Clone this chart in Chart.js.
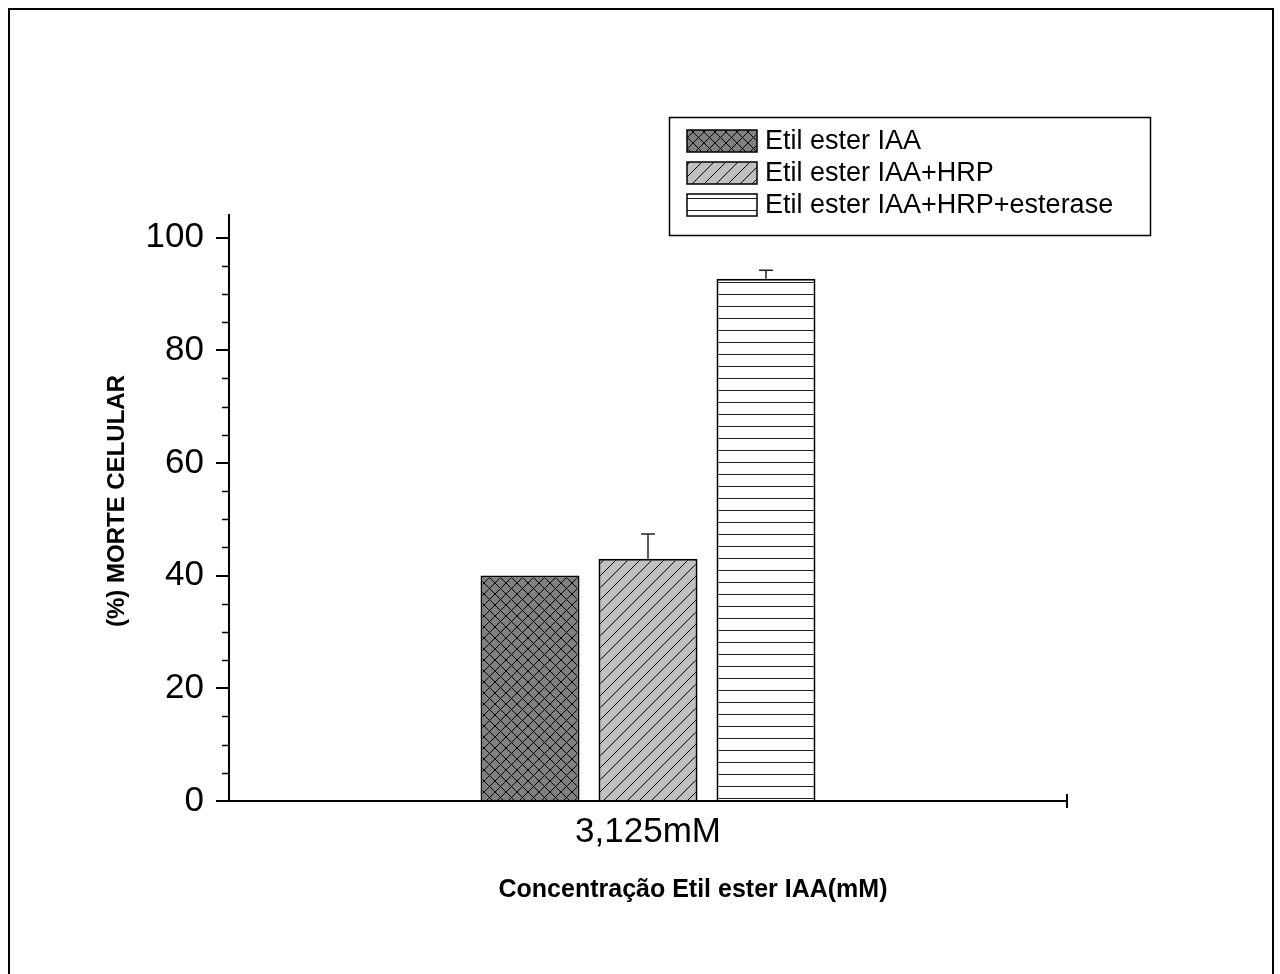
<!DOCTYPE html>
<html>
<head>
<meta charset="utf-8">
<script src="https://cdn.jsdelivr.net/npm/chart.js@4"></script>
<style>
  html, body { margin: 0; padding: 0; background: #fff; }
  canvas { display: block; }
</style>
</head>
<body>
<canvas id="chart" width="1280" height="974"></canvas>
<script>
/* ===== DATA ===== */
const categories = ["3,125mM"];
const seriesNames = ["Etil ester IAA", "Etil ester IAA+HRP", "Etil ester IAA+HRP+esterase"];
const iaaValues = [40];
const iaaHrpValues = [43];
const iaaHrpEsteraseValues = [92.7];
const iaaErrors = [0];
const iaaHrpErrors = [4.4];
const iaaHrpEsteraseErrors = [1.5];
const yTicks = [0, 20, 40, 60, 80, 100];
const yMinorTicks = [5, 10, 15, 25, 30, 35, 45, 50, 55, 65, 70, 75, 85, 90, 95];

const xTitle = "Concentração Etil ester IAA(mM)";
const yTitle = "(%) MORTE CELULAR";
const FONT = "'Liberation Sans', Arial, sans-serif";

/* ===== PATTERNS ===== */
function makePattern(kind) {
  const c = document.createElement("canvas");
  const s = kind === "cross" ? 11 : 12;
  c.width = s;
  c.height = s;
  const g = c.getContext("2d");
  g.fillStyle = kind === "cross" ? "#808080" : kind === "diag" ? "#c0c0c0" : "#ffffff";
  g.fillRect(0, 0, s, s);
  g.strokeStyle = "#000";
  g.lineWidth = 1;
  g.beginPath();
  if (kind === "cross" || kind === "diag") {
    // "/" lines
    g.moveTo(-1, s + 1); g.lineTo(s + 1, -1);
    g.moveTo(-1, 1); g.lineTo(1, -1);
    g.moveTo(s - 1, s + 1); g.lineTo(s + 1, s - 1);
  }
  if (kind === "cross") {
    // "\" lines
    g.moveTo(-1, -1); g.lineTo(s + 1, s + 1);
    g.moveTo(s - 1, -1); g.lineTo(s + 1, 1);
    g.moveTo(-1, s - 1); g.lineTo(1, s + 1);
  }
  if (kind === "hline") {
    g.strokeStyle = "#222";
    g.moveTo(0, 6.5); g.lineTo(s, 6.5);
  }
  g.stroke();
  return document.getElementById("chart").getContext("2d").createPattern(c, "repeat");
}

const fills = [makePattern("cross"), makePattern("diag"), makePattern("hline")];
const errors = [iaaErrors, iaaHrpErrors, iaaHrpEsteraseErrors];

/* ===== PLUGIN: error bars, minor ticks, titles, legend, frame ===== */
const decorations = {
  id: "decorations",
  afterDatasetsDraw(chart) {
    const ctx = chart.ctx;
    const y = chart.scales.y;
    ctx.save();
    ctx.strokeStyle = "#222";
    ctx.lineWidth = 1.5;
    chart.data.datasets.forEach((ds, i) => {
      const meta = chart.getDatasetMeta(i);
      meta.data.forEach((bar, j) => {
        const err = errors[i][j];
        if (!err) return;
        const top = y.getPixelForValue(ds.data[j] + err);
        ctx.beginPath();
        ctx.moveTo(bar.x, bar.y);
        ctx.lineTo(bar.x, top);
        ctx.moveTo(bar.x - 7, top);
        ctx.lineTo(bar.x + 7, top);
        ctx.stroke();
      });
    });
    ctx.restore();
  },
  afterDraw(chart) {
    const ctx = chart.ctx;
    const area = chart.chartArea;
    const y = chart.scales.y;
    ctx.save();

    // minor ticks on y axis
    ctx.strokeStyle = "#000";
    ctx.lineWidth = 1.5;
    yMinorTicks.forEach((v) => {
      const py = Math.round(y.getPixelForValue(v)) + 0.5;
      ctx.beginPath();
      ctx.moveTo(area.left - 7, py);
      ctx.lineTo(area.left, py);
      ctx.stroke();
    });

    // end tick on x axis
    ctx.lineWidth = 2;
    ctx.beginPath();
    ctx.moveTo(area.right, area.bottom - 7);
    ctx.lineTo(area.right, area.bottom + 7);
    ctx.stroke();

    // axis titles
    ctx.fillStyle = "#000";
    ctx.font = "bold 25px " + FONT;
    ctx.textAlign = "center";
    ctx.textBaseline = "middle";
    ctx.fillText(xTitle, 693, 890);
    ctx.font = "bold 24px " + FONT;
    ctx.translate(117, 501);
    ctx.rotate(-Math.PI / 2);
    ctx.fillText(yTitle, 0, 0);
    ctx.setTransform(1, 0, 0, 1, 0, 0);

    // legend
    const lx = 669, ly = 117, lw = 481, lh = 118;
    ctx.lineWidth = 1.5;
    ctx.strokeStyle = "#000";
    ctx.fillStyle = "#fff";
    ctx.fillRect(lx, ly, lw, lh);
    ctx.strokeRect(lx + 0.5, ly + 0.5, lw, lh);
    ctx.font = "27px " + FONT;
    ctx.textAlign = "left";
    chart.data.datasets.forEach((ds, i) => {
      const cy = 141 + i * 32;
      ctx.fillStyle = ds.backgroundColor;
      ctx.fillRect(687, cy - 11, 70, 22);
      ctx.strokeStyle = "#000";
      ctx.lineWidth = 1.5;
      ctx.strokeRect(687, cy - 11, 70, 22);
      ctx.fillStyle = "#000";
      ctx.fillText(ds.label, 765, cy + 1);
    });

    // outer frame
    ctx.lineWidth = 2;
    ctx.strokeStyle = "#000";
    ctx.strokeRect(9, 9, 1264, 1000);
    ctx.restore();
  },
};

/* ===== CHART ===== */
const chart = new Chart(document.getElementById("chart"), {
  type: "bar",
  data: {
    labels: categories,
    datasets: [
      { label: seriesNames[0], data: iaaValues, backgroundColor: fills[0] },
      { label: seriesNames[1], data: iaaHrpValues, backgroundColor: fills[1] },
      { label: seriesNames[2], data: iaaHrpEsteraseValues, backgroundColor: fills[2] },
    ].map((d) => ({ ...d, borderColor: "#000", borderWidth: 2, borderSkipped: "bottom",
      categoryPercentage: 0.4224, barPercentage: 0.839 })),
  },
  options: {
    responsive: false,
    animation: false,
    layout: { padding: { top: 215, right: 213, left: 0, bottom: 0 } },
    plugins: { legend: { display: false }, tooltip: { enabled: false } },
    scales: {
      x: {
        grid: { display: false, drawTicks: false },
        border: { color: "#000", width: 2 },
        ticks: { color: "#000", font: { family: FONT, size: 35 }, padding: 10 },
        afterFit: (s) => { s.height = 173; },
      },
      y: {
        min: 0,
        max: 104,
        afterBuildTicks: (s) => { s.ticks = yTicks.map((v) => ({ value: v })); },
        grid: { drawOnChartArea: false, drawTicks: true, tickLength: 13, color: "#000", lineWidth: 2 },
        border: { color: "#000", width: 2 },
        ticks: { color: "#000", font: { family: FONT, size: 35 }, padding: 12 },
        afterFit: (s) => { s.width = 229; },
      },
    },
  },
  plugins: [decorations],
});
</script>
</body>
</html>
